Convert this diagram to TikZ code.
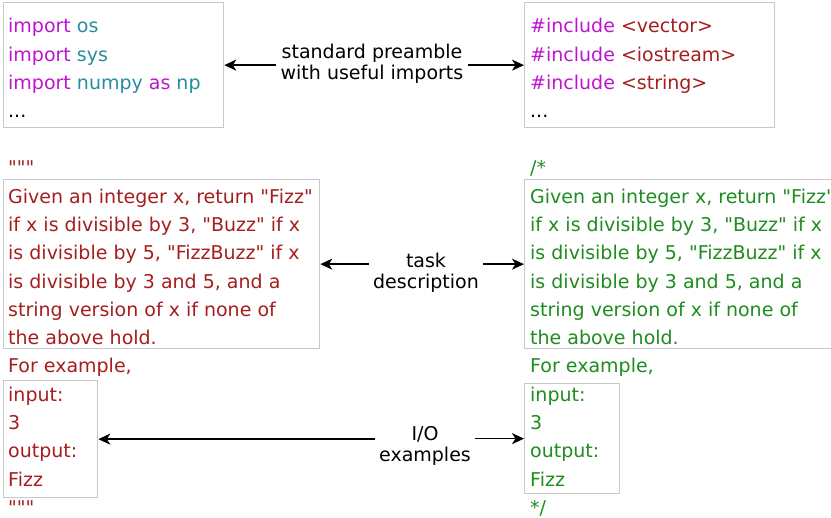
\documentclass[tikz,border=0pt]{standalone}
\usepackage{fontspec}
\setmainfont{DejaVu Sans}
\usetikzlibrary{arrows.meta}
\definecolor{kw}{RGB}{190,20,210}
\definecolor{mod}{RGB}{40,140,160}
\definecolor{str}{RGB}{165,30,30}
\definecolor{cmt}{RGB}{30,140,30}
\definecolor{boxgray}{RGB}{200,200,200}
\newcommand{\dq}{\textquotedbl}
\begin{document}
\begin{tikzpicture}[x=1pt,y=-1pt,
  box/.style={draw=boxgray, line width=1.3pt, inner sep=0pt, anchor=north west},
  code/.style={anchor=base west, inner sep=0pt, font=\fontsize{19}{22}\selectfont},
  lab/.style={align=center, inner sep=4pt, font=\fontsize{19}{21}\selectfont},
  arr/.style={-{Stealth[length=12pt,width=11pt,inset=3.5pt]}, line width=1.6pt}]
\useasboundingbox (0,0) rectangle (831,518);
% boxes
\node[box, minimum width=220pt, minimum height=125pt] (pyhead) at (3,2) {};
\node[box, minimum width=250pt, minimum height=125pt] (cphead) at (524,2) {};
\node[box, minimum width=316pt, minimum height=169pt] (pydesc) at (3,179) {};
\node[box, minimum width=320pt, minimum height=169pt] (cpdesc) at (524,179) {};
\node[box, minimum width=94pt, minimum height=117pt] (pyio) at (3,380) {};
\node[box, minimum width=95pt, minimum height=110pt] (cpio) at (524,383) {};
% python header
\node[code, text=kw] (py1) at (8,33) {import \textcolor{mod}{os}};
\node[code, text=kw] (py2) at (8,61.5) {import \textcolor{mod}{sys}};
\node[code, text=kw] (py3) at (8,90) {import \textcolor{mod}{numpy} as \textcolor{mod}{np}};
\node[code] (py4) at (8,118) {...};
% c++ header
\node[code, text=kw] (cp1) at (530,33) {\#include \textcolor{str}{<vector>}};
\node[code, text=kw] (cp2) at (530,61.5) {\#include \textcolor{str}{<iostream>}};
\node[code, text=kw] (cp3) at (530,90) {\#include \textcolor{str}{<string>}};
\node[code] (cp4) at (530,118) {...};
% python description
\begin{scope}[every node/.append style={text=str}]
\node[code] (pq1) at (8,175) {\dq\dq\dq};
\node[code] (pd1) at (8,203.3) {Given an integer x, return \dq Fizz\dq};
\node[code] (pd2) at (8,231.6) {if x is divisible by 3, \dq Buzz\dq{} if x};
\node[code] (pd3) at (8,259.9) {is divisible by 5, \dq FizzBuzz\dq{} if x};
\node[code] (pd4) at (8,288.2) {is divisible by 3 and 5, and a};
\node[code] (pd5) at (8,316.5) {string version of x if none of};
\node[code] (pd6) at (8,344.8) {the above hold.};
\node[code] (pe) at (8,373) {For example,};
\node[code] (pi1) at (8,401.3) {input:};
\node[code] (pi2) at (8,429.6) {3};
\node[code] (pi3) at (8,457.9) {output:};
\node[code] (pi4) at (8,486.2) {Fizz};
\node[code] (pq2) at (8,514.5) {\dq\dq\dq};
\end{scope}
% c++ description
\begin{scope}[every node/.append style={text=cmt}]
\node[code] (cq1) at (530,175) {/*};
\node[code] (cd1) at (530,203.3) {Given an integer x, return \dq Fizz\dq};
\node[code] (cd2) at (530,231.6) {if x is divisible by 3, \dq Buzz\dq{} if x};
\node[code] (cd3) at (530,259.9) {is divisible by 5, \dq FizzBuzz\dq{} if x};
\node[code] (cd4) at (530,288.2) {is divisible by 3 and 5, and a};
\node[code] (cd5) at (530,316.5) {string version of x if none of};
\node[code] (cd6) at (530,344.8) {the above hold.};
\node[code] (ce) at (530,373) {For example,};
\node[code] (ci1) at (530,401.3) {input:};
\node[code] (ci2) at (530,429.6) {3};
\node[code] (ci3) at (530,457.9) {output:};
\node[code] (ci4) at (530,486.2) {Fizz};
\node[code] (cq2) at (530,514.5) {*/};
\end{scope}
% labels
\node[lab] (l1) at (372,63.5) {standard preamble\\with useful imports};
\node[lab] (l2) at (426,272.5) {task\\description};
\node[lab] (l3) at (425,446) {I/O\\examples};
% arrows
\draw[arr] (l1.west |- pyhead.east) -- (pyhead.east);
\draw[arr] (l1.east |- cphead.west) -- (cphead.west);
\draw[arr] (l2.west |- pydesc.east) -- (pydesc.east);
\draw[arr] (l2.east |- cpdesc.west) -- (cpdesc.west);
\draw[arr] (l3.west |- pyio.east) -- (pyio.east);
\draw[arr] (l3.east |- cpio.west) -- (cpio.west);
\end{tikzpicture}
\end{document}
